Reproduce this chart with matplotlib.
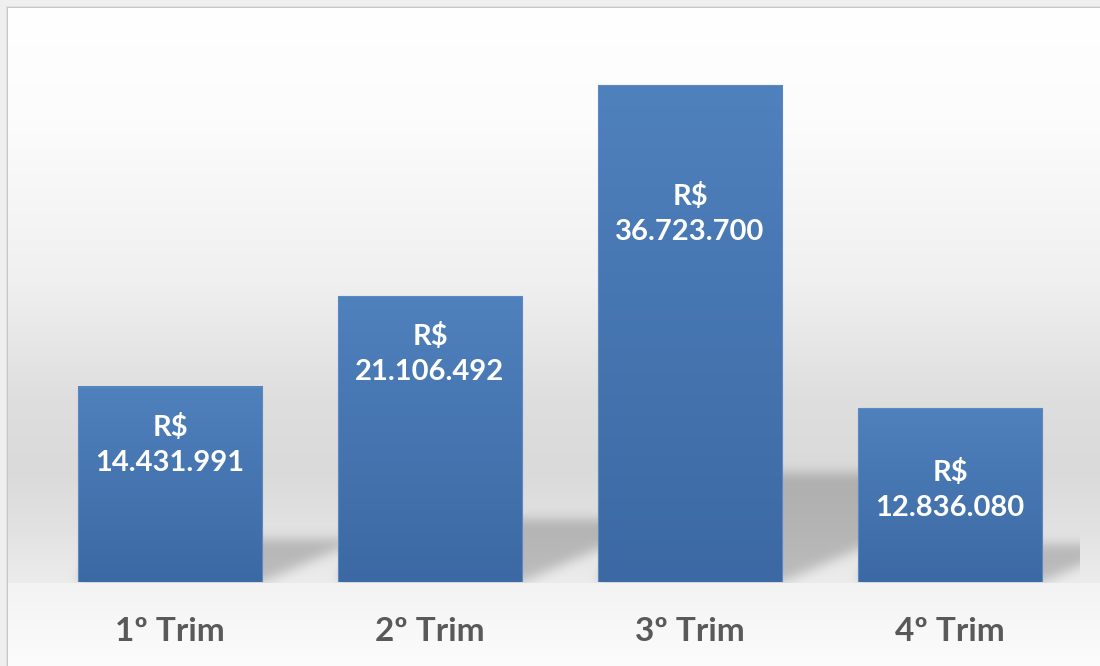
import numpy as np
import matplotlib
matplotlib.use("Agg")
import matplotlib.pyplot as plt
from matplotlib.path import Path
from matplotlib.colors import LinearSegmentedColormap

# ---- data ----
categories = ["1º Trim", "2º Trim", "3º Trim", "4º Trim"]
values = [14431991, 21106492, 36723700, 12836080]
label_centers = [10.13e6, 16.85e6, 27.2e6, 6.8e6]   # where each label block sits

W, H, DPI = 1100, 666, 100
fig = plt.figure(figsize=(W / DPI, H / DPI), dpi=DPI)
fig.patch.set_facecolor("#efefef")

bg_ax = fig.add_axes([0, 0, 1, 1])
bg_ax.axis("off")

ax = fig.add_axes([40 / W, (H - 582) / H, 1040 / W, 542 / H])
ax.patch.set_alpha(0)
x = np.arange(len(values))
bars = ax.bar(x, values, width=0.71, facecolor="none", edgecolor="#5a89c4",
              linewidth=0.8, zorder=3)
grad = np.linspace(0, 1, 256).reshape(-1, 1)
cmap = LinearSegmentedColormap.from_list("b", ["#3c69a3", "#4f81bd"])
for b in bars:
    x0, y0, w, h = b.get_x(), b.get_y(), b.get_width(), b.get_height()
    ax.imshow(grad, extent=(x0, x0 + w, y0, y0 + h), origin="lower", cmap=cmap,
              aspect="auto", zorder=2, interpolation="bicubic")
ax.set_xlim(-0.5, 3.5)
ax.set_ylim(0, 40.06e6)
for s in ax.spines.values():
    s.set_visible(False)
ax.set_yticks([])
ax.set_xticks(x)
ax.set_xticklabels(categories, fontsize=24, fontweight="bold", color="#595959",
                   family=["Lato", "DejaVu Sans"])
ax.tick_params(axis="x", length=0, pad=25)

# value labels
for xi, v, yc in zip(x, values, label_centers):
    num = f"{v:,}".replace(",", ".")
    ax.text(xi, yc, "R$\n" + num, ha="center", va="center", color="white",
            fontsize=21, fontweight="bold", family=["Lato", "DejaVu Sans"],
            linespacing=1.4, parse_math=False, zorder=4)

# ---- background raster: chart area gradient, border, bar shadows ----
rows = np.arange(H, dtype=float)
base_row = H - ax.transData.transform((0, 0))[1]
wall = np.interp(rows, [8, 120, 280, 400, 470, 530, base_row],
                 [255, 252, 240, 222, 218, 226, 236])
floor = np.interp(rows, [base_row + 1, H], [243, 252])
col = np.where(rows <= base_row, wall, floor)
img = np.repeat(col[:, None], W, axis=1)

# shadows
yy, xx = np.mgrid[0:H, 0:W]
pts = np.column_stack([xx.ravel() + 0.5, yy.ravel() + 0.5])
mask = np.zeros(H * W)
for b in bars:
    (xl, _), (xr, ytop) = ax.transData.transform(
        [(b.get_x(), 0), (b.get_x() + b.get_width(), b.get_height())])
    top_row = H - ytop
    sh = 0.22 * (base_row - top_row)
    poly = Path([(xl, base_row), (xr, base_row),
                 (xr + 2.3 * sh, base_row - sh), (xl + 0.5 * sh, base_row - sh),
                 (xl, base_row)])
    mask = np.maximum(mask, poly.contains_points(pts).astype(float))
mask = mask.reshape(H, W)


def box_blur(a, r):
    for axis in (0, 1):
        n = a.shape[axis]
        pw = [(0, 0), (0, 0)]
        pw[axis] = (r + 1, r)
        p = np.pad(a, pw, mode="constant")
        c = np.cumsum(p, axis=axis)
        if axis == 0:
            a = (c[2 * r + 1:] - c[:n]) / (2 * r + 1)
        else:
            a = (c[:, 2 * r + 1:] - c[:, :n]) / (2 * r + 1)
    return a


for _ in range(3):
    mask = box_blur(mask, 5)
plot_right = ax.transAxes.transform((1, 0))[0]
mask[int(base_row) + 1:, :] = 0
mask[:, int(plot_right):] = 0
img = img * (1 - 0.2 * mask)

# outer frame
img[:8, :] = 239
img[:, :8] = 239
img[7, 7:] = 200
img[7:, 7] = 200
img[6, 6:] = 225
img[6:, 6] = 225

rgb = np.clip(np.dstack([img, img, img]) / 255.0, 0, 1)
bg_ax.imshow(rgb, extent=(0, W, H, 0), aspect="auto", interpolation="nearest")
bg_ax.set_xlim(0, W)
bg_ax.set_ylim(H, 0)

fig.savefig("out.png", dpi=DPI)
